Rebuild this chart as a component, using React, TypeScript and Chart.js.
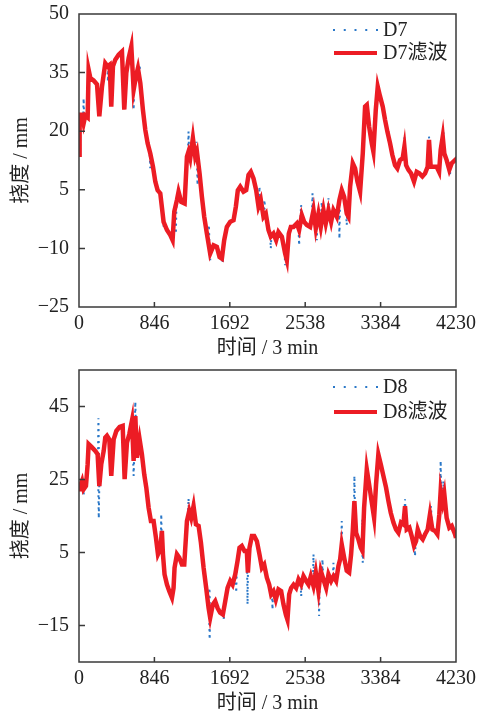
import React, { useEffect, useRef } from "react";
import { Chart, registerables } from "chart.js";
Chart.register(...registerables);

const FONT = "'Liberation Serif', 'Noto Sans CJK SC', serif";
const RED = "#ec1c24";
const BLUE = "#2b78c8";

const xTicks = [0, 846, 1692, 2538, 3384, 4230];
const d7YTicks = [-25, -10, 5, 20, 35, 50];
const d8YTicks = [-15, 5, 25, 45];

// D7 filtered
const d7T = [0, 7, 34, 52, 71, 97, 108, 127, 164, 202, 228, 258, 295, 321, 344, 362, 381, 407, 445, 482, 508, 531, 557, 587, 613, 639, 661, 688, 717, 744, 770, 800, 830, 856, 882, 912, 949, 987, 1024, 1050, 1069, 1099, 1117, 1147, 1185, 1211, 1229, 1248, 1278, 1304, 1323, 1353, 1379, 1405, 1435, 1472, 1510, 1547, 1577, 1603, 1629, 1659, 1697, 1734, 1760, 1782, 1809, 1846, 1876, 1902, 1928, 1958, 1988, 2014, 2040, 2070, 2096, 2126, 2152, 2182, 2212, 2238, 2276, 2313, 2332, 2354, 2377, 2407, 2444, 2470, 2500, 2526, 2556, 2593, 2631, 2657, 2687, 2713, 2743, 2769, 2799, 2829, 2855, 2892, 2922, 2948, 2975, 3004, 3023, 3042, 3072, 3098, 3124, 3154, 3184, 3210, 3229, 3255, 3285, 3303, 3330, 3352, 3378, 3408, 3434, 3460, 3490, 3516, 3546, 3572, 3602, 3632, 3651, 3670, 3696, 3726, 3759, 3789, 3819, 3853, 3883, 3912, 3927, 3946, 3976, 4013, 4040, 4058, 4081, 4099, 4125, 4155, 4182, 4219, 4230];
const d7V = [14, 24.2, 24.2, 22, 24, 23.5, 35.7, 33.6, 33, 32, 23.8, 31.4, 37.4, 36.6, 37, 26.3, 36.6, 38.3, 39.6, 40.4, 25.5, 34.9, 38.7, 41.7, 30.6, 34, 36.1, 32.3, 25.5, 20.3, 16.9, 14.3, 10.9, 7.1, 4.9, 4.1, -3.2, -5.3, -6.6, -7.9, -0.6, 2.4, 4.5, 1.9, 1.5, 13.5, 14.8, 13.1, 18.2, 13.5, 14.8, 9.2, 3.2, -1.9, -6.2, -11.3, -9.2, -9.6, -12.2, -12.6, -7.9, -4.5, -3.2, -2.8, 0.7, 4.9, 5.8, 4.5, 4.9, 8.8, 9.6, 7.9, 4.9, 0.7, 2.4, -1.9, -1.1, -5.3, -7, -6.2, -7.9, -5.8, -7, -11.3, -13, -6.2, -4.5, -4.5, -3.6, -5.3, -1.5, -3.2, -4.0, -4.5, -0.2, -4.9, -1.1, -4.5, -0.2, -3.6, -0.2, -3.2, -0.2, -1.9, 2.4, 4.9, 3.2, -1.1, -1.9, 5.8, 11.8, 10.5, 7.1, 4.5, 14.3, 26.3, 26.7, 21.2, 16.9, 14.8, 25.5, 31.4, 28.9, 26.3, 22.9, 19.9, 16.9, 13.9, 11.3, 10.5, 12.6, 13.1, 16.0, 11.3, 10.1, 9.2, 7.1, 9.6, 9.2, 8.4, 9.2, 10.9, 17.8, 10.9, 10.9, 10.9, 9.6, 15.2, 18.6, 14.3, 12.6, 10.1, 11.8, 12.6, 12];

// D7 raw outliers
const d7SpikeT = [52, 325, 613, 680, 800, 949, 1087, 1229, 1315, 1330, 1457, 1472, 1611, 2025, 2081, 2152, 2313, 2470, 2492, 2620, 2668, 2724, 2799, 2922, 3004, 3191, 3651, 3927, 4088, 4163];
const d7SpikeBase = [23, 36.6, 31, 33, 14, -3, 1, 14.8, 14, 12, -8, -11.3, -12, 1.5, 0, -7, -11, -5, -2, -1, -3, -2, -0.5, 1, -1, 15, 15, 17, 17, 10.5];
const d7SpikePeak = [28.4, 32.7, 25.5, 37, 10.5, -4.5, -6.2, 19.9, 17.3, 6.2, -4, -13, -13.5, 5.8, 2.4, -10, -14.3, -9.2, 1.1, 4.1, -7.9, 1.9, 2.8, -7.5, -4, 16.5, 18.4, 18.6, 19.9, 9];

// D8 filtered
const d8T = [0, 7, 34, 52, 78, 97, 108, 146, 183, 209, 228, 250, 277, 295, 314, 340, 362, 389, 419, 456, 490, 512, 538, 564, 594, 613, 632, 650, 680, 706, 732, 755, 781, 807, 837, 863, 886, 912, 930, 942, 960, 987, 1013, 1043, 1061, 1072, 1099, 1125, 1155, 1181, 1211, 1237, 1259, 1285, 1312, 1342, 1368, 1398, 1427, 1454, 1472, 1502, 1528, 1555, 1584, 1614, 1641, 1667, 1697, 1723, 1753, 1779, 1801, 1827, 1857, 1883, 1895, 1913, 1940, 1966, 1996, 2025, 2052, 2078, 2108, 2134, 2156, 2182, 2208, 2238, 2268, 2294, 2321, 2339, 2358, 2380, 2407, 2436, 2463, 2493, 2519, 2549, 2575, 2601, 2631, 2657, 2687, 2713, 2743, 2773, 2799, 2829, 2855, 2885, 2911, 2930, 2948, 2975, 3004, 3031, 3053, 3072, 3090, 3109, 3135, 3161, 3180, 3199, 3229, 3255, 3285, 3311, 3333, 3359, 3386, 3415, 3445, 3472, 3498, 3528, 3557, 3584, 3613, 3640, 3658, 3677, 3707, 3733, 3759, 3782, 3801, 3827, 3857, 3883, 3912, 3938, 3965, 3995, 4021, 4043, 4058, 4081, 4099, 4125, 4155, 4182, 4219, 4230];
const d8V = [22.3, 22.8, 24.6, 22.3, 23.2, 29.2, 34.7, 33.8, 32.8, 31.9, 23.2, 29.2, 32.8, 36.5, 37, 36, 26, 36, 38.3, 39.4, 39.7, 25.1, 35.1, 37.4, 41.1, 30.1, 42.4, 31, 36, 31.9, 26.4, 22.8, 17.3, 13.6, 13.6, 9.1, 4.5, 5.9, 10.9, 4.5, -1, -3.8, -5.6, -7.4, -4.7, 0.8, 4.5, 3.6, 1.7, 1.7, 13.6, 16.4, 14.5, 17.7, 12.7, 12.3, 7.7, 0.8, -4.7, -10.2, -12.9, -9.2, -8.3, -10.2, -11.5, -12, -8.3, -4.7, -2.8, -3.8, -1, 2.7, 6.3, 6.8, 5.4, 5.4, -0.5, 6.3, 9.5, 9.5, 8.1, 4.5, 0.8, 1.7, -1.9, -3.8, -6.5, -5.6, -7.9, -5.1, -5.6, -9.2, -12, -13.4, -6.5, -4.7, -3.8, -4.7, -2.4, -3.8, -1.5, -2.8, -3.8, -1.5, -4.2, -0.5, -5.6, 0, -2.4, -4.7, -1, -2.8, -1.5, -2.8, 1.3, 3.1, 7.2, 3.6, 0, -0.5, 4.5, 10.9, 19.1, 10.4, 8.6, 6.3, 5.4, 17.3, 27.8, 23.7, 18.7, 14.5, 23.7, 31.9, 29.2, 26, 22.8, 19.1, 15.9, 13.2, 11.3, 10.4, 13.2, 12.7, 17.7, 11.3, 11.8, 9.5, 6.8, 8.1, 11.3, 9.5, 8.6, 10, 11.3, 15.5, 11.3, 10.9, 10, 15.5, 21.9, 18.7, 21, 14.5, 11.8, 12.3, 10, 9];

// D8 raw outliers
const d8SpikeT = [52, 218, 222, 613, 632, 923, 1229, 1285, 1463, 1466, 1622, 1764, 1891, 2171, 2493, 2631, 2694, 2732, 2855, 2948, 3090, 3180, 3184, 3658, 3770, 3950, 4058, 4088];
const d8SpikeBase = [22.5, 30, 24, 31, 40, 8, 15, 17, -9, -11, -12, 0, 3, -6, -3.8, -2, -4, -1, -1.5, 5, 17, 6, 6, 16, 7, 14, 21, 19];
const d8SpikePeak = [20.9, 41.8, 14.4, 26, 46.3, 15.5, 19.8, 19.1, -4.7, -18.8, -13.4, -6, -9.2, -10.6, -7, 4.5, -12.4, 3.1, 2.2, 13.6, 26, 14.1, 2.2, 19.6, 4, 17.7, 30.1, 24.6];

const framePlugin = {
  id: "frame",
  afterDraw(chart: any, _args: any, opts: any) {
    const { ctx, chartArea } = chart;
    const { left, top, right, bottom } = chartArea;
    const x = chart.scales.x;
    const y = chart.scales.y;
    ctx.save();
    ctx.strokeStyle = "#3a3a3a";
    ctx.lineWidth = 1.5;
    ctx.beginPath();
    x.ticks.forEach((t: any) => {
      const px = x.getPixelForValue(t.value);
      if (px > left + 1 && px < right - 1) {
        ctx.moveTo(px, bottom);
        ctx.lineTo(px, bottom - 5);
      }
    });
    y.ticks.forEach((t: any) => {
      const py = y.getPixelForValue(t.value);
      if (py > top + 1 && py < bottom - 1) {
        ctx.moveTo(left, py);
        ctx.lineTo(left + 6, py);
      }
    });
    ctx.stroke();
    ctx.strokeRect(left, top, right - left, bottom - top);

    // legend
    const items = opts.items || [];
    const sx0 = right - 122;
    const sx1 = right - 79;
    const tx = right - 73;
    items.forEach((it: any, i: number) => {
      const ry = top + opts.rows[i];
      if (it.kind === "dots") {
        ctx.fillStyle = BLUE;
        for (let k = 0; k < 5; k++) {
          const dx = sx0 + (k * (sx1 - sx0)) / 4;
          ctx.fillRect(dx - 1, ry - 1, 2, 2);
        }
      } else {
        ctx.strokeStyle = RED;
        ctx.lineWidth = 4;
        ctx.beginPath();
        ctx.moveTo(sx0, ry);
        ctx.lineTo(sx1, ry);
        ctx.stroke();
      }
      ctx.fillStyle = "#222";
      ctx.font = `20px ${FONT}`;
      ctx.textAlign = "left";
      ctx.textBaseline = "middle";
      ctx.fillText(it.label, tx, ry + 1);
    });
    ctx.restore();
  },
};

function buildSpikes(ts: number[], base: number[], peak: number[]) {
  const out: any[] = [];
  ts.forEach((t, i) => {
    out.push({ x: t - 6, y: base[i] });
    out.push({ x: t, y: peak[i] });
    out.push({ x: t + 6, y: base[i] });
    out.push({ x: t + 7, y: null });
  });
  return out;
}

type Props = {
  height: number;
  padTop: number;
  xHeight: number;
  xTitlePad: number;
  yMin: number;
  yMax: number;
  yTicks: number[];
  t: number[];
  v: number[];
  spikeT: number[];
  spikeBase: number[];
  spikePeak: number[];
  name: string;
  legendRows: number[];
};

function PanelChart(p: Props) {
  const ref = useRef<HTMLCanvasElement | null>(null);
  useEffect(() => {
    if (!ref.current) return;
    const fmt = (v: any) => (Number(v) < 0 ? "\u2212" + Math.abs(Number(v)) : String(v));
    const chart = new Chart(ref.current, {
      type: "line",
      data: {
        datasets: [
          {
            label: p.name + "滤波",
            data: p.t.map((t, i) => ({ x: t, y: p.v[i] })),
            borderColor: RED,
            borderWidth: 4.5,
            pointRadius: 0,
            tension: 0,
            order: 0,
          },
          {
            label: p.name,
            data: buildSpikes(p.spikeT, p.spikeBase, p.spikePeak),
            borderColor: BLUE,
            borderWidth: 2,
            borderDash: [2, 4],
            pointRadius: 0,
            spanGaps: false,
            order: 1,
          },
        ] as any,
      },
      options: {
        animation: false,
        responsive: false,
        maintainAspectRatio: false,
        layout: { padding: { top: p.padTop, right: 31, left: 0, bottom: 0 } },
        plugins: {
          legend: { display: false },
          tooltip: { enabled: false },
          frame: {
            items: [
              { label: p.name, kind: "dots" },
              { label: p.name + "滤波", kind: "line" },
            ],
            rows: p.legendRows,
          },
        } as any,
        scales: {
          x: {
            type: "linear",
            min: 0,
            max: 4230,
            grid: { display: false, drawTicks: false },
            border: { display: false },
            afterBuildTicks: (s: any) => {
              s.ticks = xTicks.map((v) => ({ value: v }));
            },
            afterFit: (s: any) => {
              s.height = p.xHeight;
              s.paddingLeft = 0;
              s.paddingRight = 0;
            },
            ticks: {
              autoSkip: false,
              maxRotation: 0,
              padding: 5,
              color: "#222",
              font: { family: FONT, size: 20 },
              callback: (v: any) => String(v),
            },
            title: {
              display: true,
              text: "时间 / 3 min",
              color: "#222",
              font: { family: FONT, size: 20, lineHeight: 1 },
              padding: { top: 0, bottom: p.xTitlePad },
            },
          },
          y: {
            type: "linear",
            min: p.yMin,
            max: p.yMax,
            grid: { display: false, drawTicks: false },
            border: { display: false },
            afterBuildTicks: (s: any) => {
              s.ticks = p.yTicks.map((v) => ({ value: v }));
            },
            afterFit: (s: any) => {
              s.width = 79;
              s.paddingTop = 0;
              s.paddingBottom = 0;
            },
            ticks: {
              autoSkip: false,
              padding: 10,
              color: "#222",
              font: { family: FONT, size: 20 },
              callback: fmt,
            },
            title: {
              display: true,
              text: "挠度 / mm",
              color: "#222",
              font: { family: FONT, size: 20, lineHeight: 1 },
              padding: { top: 12, bottom: 0 },
            },
          },
        },
      } as any,
      plugins: [framePlugin as any],
    });
    return () => chart.destroy();
  }, []);
  return <canvas ref={ref} width={487} height={p.height} style={{ display: "block", width: 487, height: p.height }} />;
}

export default function App() {
  return (
    <div style={{ position: "absolute", left: 0, top: 0, width: 487, height: 714, background: "#fff" }}>
      <PanelChart
        height={360}
        padTop={14}
        xHeight={53}
        xTitlePad={1}
        yMin={-25}
        yMax={50}
        yTicks={d7YTicks}
        t={d7T}
        v={d7V}
        spikeT={d7SpikeT}
        spikeBase={d7SpikeBase}
        spikePeak={d7SpikePeak}
        name="D7"
        legendRows={[16, 39]}
      />
      <PanelChart
        height={354}
        padTop={10}
        xHeight={52}
        xTitlePad={0}
        yMin={-25}
        yMax={55}
        yTicks={d8YTicks}
        t={d8T}
        v={d8V}
        spikeT={d8SpikeT}
        spikeBase={d8SpikeBase}
        spikePeak={d8SpikePeak}
        name="D8"
        legendRows={[17, 42]}
      />
    </div>
  );
}
